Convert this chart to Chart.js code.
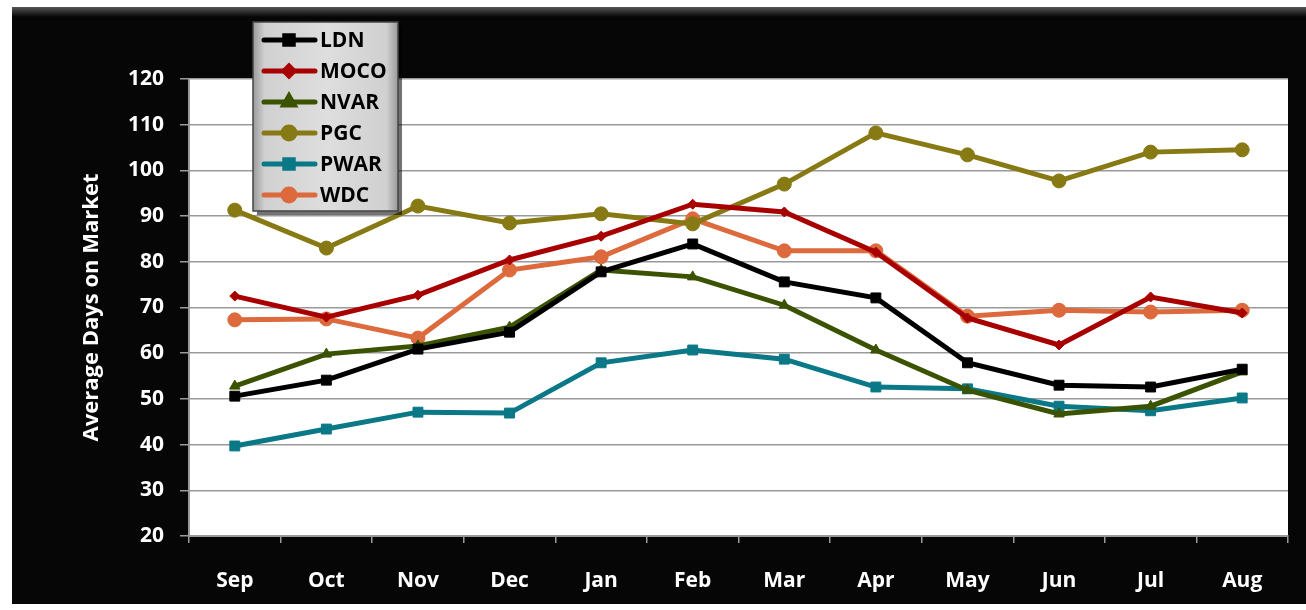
<!DOCTYPE html>
<html>
<head>
<meta charset="utf-8">
<script src="https://cdn.jsdelivr.net/npm/chart.js@4/dist/chart.umd.min.js"></script>
<style>
  html, body { margin: 0; padding: 0; background: #fff; }
  #wrap { width: 1306px; height: 610px; }
</style>
</head>
<body>
<div id="wrap"><canvas id="domChart" width="1306" height="610"></canvas></div>
<script>
// 월별 카테고리
const months = ['Sep', 'Oct', 'Nov', 'Dec', 'Jan', 'Feb', 'Mar', 'Apr', 'May', 'Jun', 'Jul', 'Aug'];

// 지역별 평균 매물 노출 일수
const ldn  = [50.6, 54.1, 60.9, 64.6, 77.8, 83.9, 75.6, 72.1, 57.9, 53.0, 52.6, 56.5];
const moco = [72.5, 67.9, 72.7, 80.4, 85.6, 92.6, 90.9, 82.1, 67.7, 61.8, 72.3, 68.8];
const nvar = [52.8, 59.8, 61.6, 65.7, 78.2, 76.7, 70.5, 60.7, 51.9, 46.7, 48.4, 55.9];
const pgc  = [91.3, 83.0, 92.2, 88.5, 90.5, 88.3, 97.0, 108.2, 103.4, 97.7, 104.0, 104.5];
const pwar = [39.7, 43.4, 47.1, 46.9, 57.9, 60.7, 58.7, 52.6, 52.2, 48.4, 47.4, 50.2];
const wdc  = [67.3, 67.5, 63.3, 78.2, 81.1, 89.4, 82.4, 82.4, 68.1, 69.4, 69.0, 69.4];

// Y축 눈금 (20 ~ 120)
const yMin = 20, yMax = 120, yStep = 10;

const FONT = '"Open Sans", Lato, sans-serif';

function series(label, data, color, style, radius) {
  return {
    label: label,
    data: data,
    borderColor: color,
    backgroundColor: color,
    borderWidth: 5,
    pointStyle: style,
    pointRadius: radius,
    pointHoverRadius: radius,
    pointBorderWidth: 1,
    tension: 0
  };
}

const datasets = [
  series('LDN',  ldn,  '#000000', 'rect', 7),
  series('MOCO', moco, '#a80000', 'rectRot', 5),
  series('NVAR', nvar, '#3b5200', 'triangle', 6),
  series('PGC',  pgc,  '#877a14', 'circle', 7),
  series('PWAR', pwar, '#0a7886', 'rect', 7),
  series('WDC',  wdc,  '#dc6a3c', 'circle', 7)
];

// 검은 배경 + 흰색 플롯 영역
const backdrop = {
  id: 'backdrop',
  beforeDraw(chart) {
    const { ctx, chartArea: a } = chart;
    ctx.save();
    ctx.fillStyle = '#060606';
    ctx.fillRect(12, 7, chart.width - 12, 597);
    const g = ctx.createLinearGradient(0, 7, 0, 17);
    g.addColorStop(0, '#555');
    g.addColorStop(1, '#060606');
    ctx.fillStyle = g;
    ctx.fillRect(12, 7, chart.width - 12, 10);
    ctx.fillStyle = '#ffffff';
    ctx.fillRect(a.left, a.top, a.right - a.left, a.bottom - a.top);
    ctx.restore();
  },
  afterDraw(chart) {
    const { ctx, chartArea: a } = chart;
    // 세로 축 제목
    ctx.save();
    ctx.translate(92, (a.top + a.bottom) / 2);
    ctx.rotate(-Math.PI / 2);
    ctx.fillStyle = '#ffffff';
    ctx.font = 'bold 22px ' + FONT;
    ctx.textAlign = 'center';
    ctx.textBaseline = 'middle';
    ctx.fillText('Average Days on Market', 0, 0);
    ctx.restore();
  }
};

// 플롯 위에 겹쳐 그리는 범례 상자
const floatLegend = {
  id: 'floatLegend',
  afterDraw(chart) {
    const ctx = chart.ctx;
    const x = 253, y = 22, w = 145, h = 189;
    ctx.save();
    ctx.fillStyle = 'rgba(0,0,0,0.55)';
    ctx.fillRect(x + 4, y + 4, w, h);
    const g = ctx.createLinearGradient(x, 0, x + w, 0);
    g.addColorStop(0, '#9a9a9a');
    g.addColorStop(0.08, '#d0d0d0');
    g.addColorStop(0.5, '#dedede');
    g.addColorStop(0.92, '#d0d0d0');
    g.addColorStop(1, '#9a9a9a');
    ctx.fillStyle = g;
    ctx.fillRect(x, y, w, h);
    ctx.strokeStyle = '#444';
    ctx.lineWidth = 1.5;
    ctx.strokeRect(x, y, w, h);

    chart.data.datasets.forEach((ds, i) => {
      const cy = y + 18 + i * 31;
      ctx.strokeStyle = ds.borderColor;
      ctx.lineWidth = 5;
      ctx.lineCap = 'round';
      ctx.beginPath();
      ctx.moveTo(264, cy);
      ctx.lineTo(315, cy);
      ctx.stroke();
      ctx.fillStyle = ds.backgroundColor;
      Chart.helpers.drawPoint(ctx, {
        pointStyle: ds.pointStyle,
        radius: Math.min(ds.pointRadius, 6),
        rotation: 0,
        borderWidth: 1
      }, 289, cy);
      ctx.fillStyle = '#000';
      ctx.font = 'bold 21px ' + FONT;
      ctx.textAlign = 'left';
      ctx.textBaseline = 'middle';
      ctx.fillText(ds.label, 320, cy + 1);
    });
    ctx.restore();
  }
};

new Chart(document.getElementById('domChart'), {
  type: 'line',
  data: { labels: months, datasets: datasets },
  plugins: [backdrop, floatLegend],
  options: {
    responsive: false,
    animation: false,
    layout: { padding: { left: 0, top: 79, right: 18, bottom: 0 } },
    plugins: {
      legend: { display: false },
      tooltip: { enabled: false }
    },
    scales: {
      x: {
        offset: true,
        afterFit(s) { s.height = 74; },
        grid: {
          offset: true,
          drawOnChartArea: false,
          color: '#9a9a9a',
          lineWidth: 1.5,
          tickLength: 7
        },
        border: { color: '#9a9a9a', width: 2 },
        ticks: {
          color: '#ffffff',
          padding: 25,
          font: { family: FONT, weight: 'bold', size: 21 }
        }
      },
      y: {
        min: yMin,
        max: yMax,
        afterFit(s) { s.width = 189; },
        grid: {
          color: '#9a9a9a',
          lineWidth: 1.5,
          tickLength: 9
        },
        border: { color: '#9a9a9a', width: 2 },
        ticks: {
          stepSize: yStep,
          color: '#ffffff',
          padding: 16,
          font: { family: FONT, weight: 'bold', size: 21 }
        }
      }
    }
  }
});
</script>
</body>
</html>
